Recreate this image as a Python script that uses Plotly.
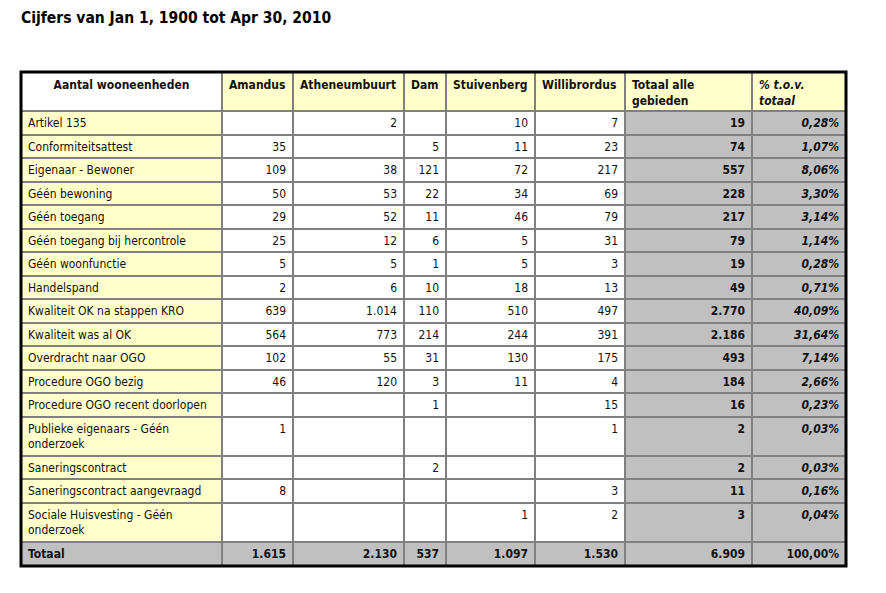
import numpy as np
import plotly.graph_objects as go

title = "Cijfers van Jan 1, 1900 tot Apr 30, 2010"

categories = [
    "Artikel 135", "Conformiteitsattest", "Eigenaar - Bewoner", "Géén bewoning",
    "Géén toegang", "Géén toegang bij hercontrole", "Géén woonfunctie", "Handelspand",
    "Kwaliteit OK na stappen KRO", "Kwaliteit was al OK", "Overdracht naar OGO",
    "Procedure OGO bezig", "Procedure OGO recent doorlopen",
    "Publieke eigenaars - Géén<br>onderzoek", "Saneringscontract",
    "Saneringscontract aangevraagd", "Sociale Huisvesting - Géén<br>onderzoek",
]
areas = ["Amandus", "Atheneumbuurt", "Dam", "Stuivenberg", "Willibrordus"]

amandus = [None, 35, 109, 50, 29, 25, 5, 2, 639, 564, 102, 46, None, 1, None, 8, None]
atheneumbuurt = [2, None, 38, 53, 52, 12, 5, 6, 1014, 773, 55, 120, None, None, None, None, None]
dam = [None, 5, 121, 22, 11, 6, 1, 10, 110, 214, 31, 3, 1, None, 2, None, None]
stuivenberg = [10, 11, 72, 34, 46, 5, 5, 18, 510, 244, 130, 11, None, None, None, None, 1]
willibrordus = [7, 23, 217, 69, 79, 31, 3, 13, 497, 391, 175, 4, 15, 1, None, 3, 2]
totaal = [19, 74, 557, 228, 217, 79, 19, 49, 2770, 2186, 493, 184, 16, 2, 2, 11, 3]
pct = [0.28, 1.07, 8.06, 3.30, 3.14, 1.14, 0.28, 0.71, 40.09, 31.64, 7.14, 2.66,
       0.23, 0.03, 0.03, 0.16, 0.04]
col_totals = [1615, 2130, 537, 1097, 1530]
grand_total = 6909
grand_pct = 100.00

header = ["<b>Aantal wooneenheden</b>"] + [f"<b>{a}</b>" for a in areas] + \
         ["<b>Totaal alle<br>gebieden</b>", "<b><i>% t.o.v.<br>totaal</i></b>"]


def nl_int(v):
    if v is None:
        return ""
    return f"{v:,}".replace(",", ".")


def nl_pct(v):
    return f"{v:.2f}".replace(".", ",") + "%"


# table body, column by column (last row = Totaal)
series = [amandus, atheneumbuurt, dam, stuivenberg, willibrordus]
columns = [categories + ["<b>Totaal</b>"]]
for s, t in zip(series, col_totals):
    columns.append([nl_int(v) for v in s] + [f"<b>{nl_int(t)}</b>"])
columns.append([f"<b>{nl_int(v)}</b>" for v in totaal] + [f"<b>{nl_int(grand_total)}</b>"])
columns.append([f"<b><i>{nl_pct(v)}</i></b>" for v in pct] + [f"<b>{nl_pct(grand_pct)}</b>"])

# geometry (page has an 8px body margin)
W, H = 870, 577
col_w = [201, 71, 111, 42, 89, 90, 127, 94]
row_h = [39] + [39 if "<br>" in c else 23.5 for c in categories] + [24.5]
x_edges = np.concatenate([[0], np.cumsum(col_w)])
y_edges = np.concatenate([[0], np.cumsum(row_h)])
tw, th = x_edges[-1], y_edges[-1]
left, top = 13, 64

# cell fill: 0 white, 1 yellow, 2 grey
n = len(categories)
z = np.zeros((n + 2, len(col_w)))
z[0, 1:] = 1
z[1:n + 1, 0] = 1
z[1:n + 1, 6:] = 2
z[n + 1, :] = 2

fig = go.Figure()
fig.add_trace(go.Heatmap(
    x=x_edges, y=y_edges, z=z, zmin=0, zmax=2,
    colorscale=[[0, "#ffffff"], [0.5, "#ffffcc"], [1, "#c0c0c0"]],
    showscale=False, xgap=2, ygap=2, hoverinfo="skip",
))

font = dict(family="DejaVu Sans Condensed, Verdana, sans-serif", size=12, color="#111111")
pad = 7

# header texts
hx, hpos = [], []
for j in range(len(col_w)):
    if j == 0:
        hx.append((x_edges[0] + x_edges[1]) / 2)
        hpos.append("bottom center")
    else:
        hx.append(x_edges[j] + pad)
        hpos.append("bottom right")
fig.add_trace(go.Scatter(
    x=hx, y=[8] * len(col_w), text=header, mode="text", textposition=hpos,
    textfont=font, hoverinfo="skip", showlegend=False,
))

# body texts
for j, col in enumerate(columns):
    tops = y_edges[1:-1]
    if j == 0:
        xs = [x_edges[0] + pad] * len(col)
        ys = [(a + b) / 2 + 1.5 for a, b in zip(y_edges[1:-1], y_edges[2:])]
        pos = "middle right"
    else:
        xs = [x_edges[j + 1] - pad] * len(col)
        ys = [t + 13.25 for t in tops]
        pos = "middle left"
    fig.add_trace(go.Scatter(
        x=xs, y=ys, text=col, mode="text", textposition=pos,
        textfont=font, hoverinfo="skip", showlegend=False,
    ))

# thick outer frame
fig.add_shape(type="rect", xref="paper", yref="paper", x0=0, x1=1, y0=0, y1=1,
              line=dict(color="black", width=3))

fig.update_xaxes(range=[0, tw], visible=False, fixedrange=True)
fig.update_yaxes(range=[th, 0], visible=False, fixedrange=True)
fig.update_layout(
    width=W, height=H,
    margin=dict(l=left, r=W - left - tw, t=top, b=H - top - th),
    paper_bgcolor="white", plot_bgcolor="#808080",
    title=dict(text=f"<b>{title}</b>", x=13 / W, xanchor="left", xref="container",
               y=1 - 10 / H, yanchor="middle",
               font=dict(family="DejaVu Sans Condensed, Verdana, sans-serif", size=15.5,
                         color="black")),
)

fig.write_html("out.html")
